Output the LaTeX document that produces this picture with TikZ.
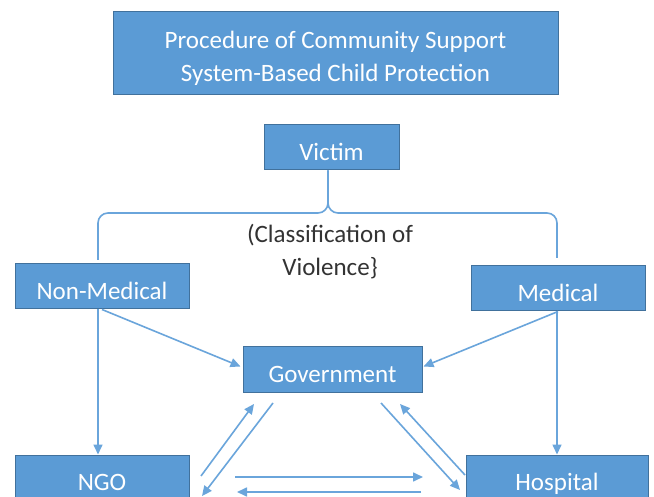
\documentclass[tikz,border=0pt]{standalone}
\usepackage{fontspec}
\setmainfont{Carlito}
\usetikzlibrary{arrows.meta}
\definecolor{boxblue}{HTML}{5B9BD5}
\definecolor{boxedge}{HTML}{41719C}
\definecolor{lineblue}{HTML}{6AA5DB}
\definecolor{txtgray}{HTML}{333333}
\begin{document}
\begin{tikzpicture}[x=1pt,y=-1pt,
  box/.style={draw=boxedge, line width=1pt, fill=boxblue, text=white,
    font=\fontsize{25}{33}\selectfont, inner sep=0pt, align=center},
  onebox/.style={box, text height=26pt, text depth=0pt},
  conn/.style={draw=lineblue, line width=1.6pt},
  arr/.style={conn, -{Triangle[length=10pt,width=9pt]}}]
\clip (0,0) rectangle (654,497);
\fill[white] (0,0) rectangle (654,497);
\node[box, minimum width=445pt, minimum height=83pt] (title) at (335.5,53.5)
  {\rule{0pt}{28pt}Procedure of Community Support\\System-Based Child Protection};
\node[onebox, minimum width=135pt, minimum height=45pt] (victim) at (331.5,147.5) {Victim};
\node[onebox, minimum width=174pt, minimum height=45pt] (nonmed) at (102,286.5) {Non-Medical};
\node[onebox, minimum width=174pt, minimum height=45pt] (med) at (558,288.5) {Medical};
\node[onebox, minimum width=179pt, minimum height=45pt] (gov) at (332.5,369.5) {Government};
\node[onebox, minimum width=174pt, minimum height=45pt] (ngo) at (102,477.5) {NGO};
\node[onebox, minimum width=182pt, minimum height=45pt] (hosp) at (557,477.5) {Hospital};
\node[text=txtgray, font=\fontsize{25}{33}\selectfont, align=center, inner sep=0pt]
  (class) at (330,252) {(Classification of\\Violence\}};
% brace
\coordinate (bl) at (98,260);
\coordinate (br) at (557,258);
\coordinate (bm) at (328,213);
\draw[conn, rounded corners=10pt] (bl) -- (bl |- bm) -- (bm) -- ([xshift=-3.5pt]victim.south);
\draw[conn, rounded corners=10pt] (br) -- (br |- bm) -- (bm) -- ([xshift=-3.5pt]victim.south);
% arrows
\draw[arr] ([xshift=-4pt]nonmed.south) -- ([xshift=-4pt]ngo.north);
\draw[arr] ([xshift=-1pt]med.south) -- ([xshift=-1pt]med.south |- hosp.north);
\draw[arr] (nonmed.south) -- ([xshift=-2pt,yshift=3pt]gov.west);
\draw[arr] (med.south) -- ([xshift=1pt,yshift=3pt]gov.east);
\coordinate (ng1) at (201,476); \coordinate (gv1) at (254,404);
\coordinate (gv2) at (273,403); \coordinate (ng2) at (202,496);
\coordinate (gv3) at (381,403); \coordinate (hs3) at (460,490);
\coordinate (hs4) at (465,475); \coordinate (gv4) at (400,404);
\coordinate (ng5) at (235,477); \coordinate (hs5) at (423,477);
\coordinate (hs6) at (421,492); \coordinate (ng6) at (237,492);
\draw[arr] (ng1) -- (gv1);
\draw[arr] (gv2) -- (ng2);
\draw[arr] (gv3) -- (hs3);
\draw[arr] (hs4) -- (gv4);
\draw[arr] (ng5) -- (hs5);
\draw[arr] (hs6) -- (ng6);
\end{tikzpicture}
\end{document}
